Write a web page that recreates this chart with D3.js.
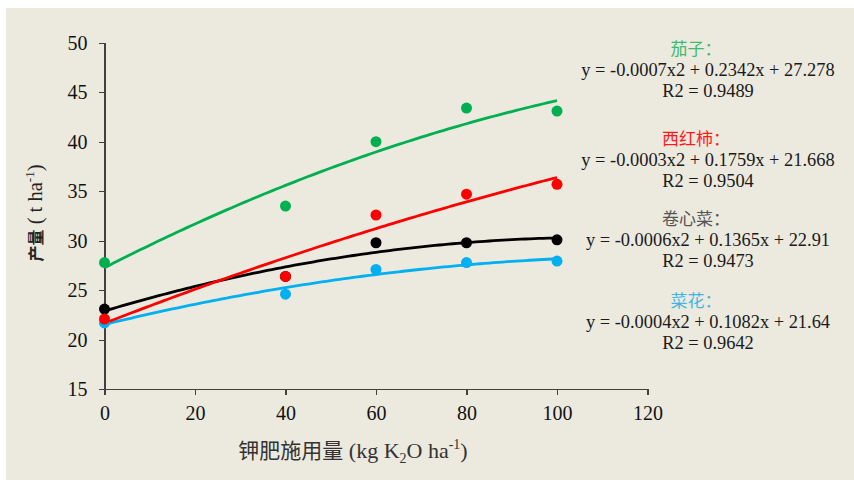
<!DOCTYPE html>
<html lang="zh">
  <head>
    <meta charset="UTF-8" />
    <style>
      body {
        margin: 0;
        background: #fff;
      }
      svg {
        display: block;
      }
      .axis path,
      .axis line {
        stroke: #404040;
        stroke-width: 1.3;
        shape-rendering: crispEdges;
      }
    </style>
    <script src="https://d3js.org/d3.v7.min.js"></script>
    <title>钾肥施用量与产量</title>
  </head>
  <body>
    <script>
      var SERIF = "Liberation Serif";
      var CJK = "Noto Sans CJK SC";

      // doses of K2O (kg/ha)
      var doses = [0, 40, 60, 80, 100];

      // yields (t/ha)
      var eggplant = [27.8, 33.5, 40.0, 43.4, 43.1];
      var tomato = [22.1, 26.4, 32.6, 34.7, 35.7];
      var cabbage = [23.1, 26.4, 29.8, 29.8, 30.1];
      var cauliflower = [21.7, 24.6, 27.1, 27.8, 27.95];

      var seriesNames = ["菜花", "卷心菜", "西红柿", "茄子"];
      var seriesColors = ["#00b0f0", "#000000", "#ff0000", "#00b050"];
      var labelColors = ["#3fb6e6", "#555555", "#ff1a1a", "#3dba6a"];
      var equations = [
        "y = -0.0004x2 + 0.1082x + 21.64",
        "y = -0.0006x2 + 0.1365x + 22.91",
        "y = -0.0003x2 + 0.1759x + 21.668",
        "y = -0.0007x2 + 0.2342x + 27.278",
      ];
      var r2Labels = ["R2 = 0.9642", "R2 = 0.9473", "R2 = 0.9504", "R2 = 0.9489"];
      var seriesValues = [cauliflower, cabbage, tomato, eggplant];

      var xTicks = [0, 20, 40, 60, 80, 100, 120];
      var yTicks = [15, 20, 25, 30, 35, 40, 45, 50];

      var W = 854,
        H = 480;

      var svg = d3
        .select("body")
        .append("svg")
        .attr("width", W)
        .attr("height", H);

      svg
        .append("rect")
        .attr("x", 6)
        .attr("y", 8)
        .attr("width", W - 6)
        .attr("height", H - 8)
        .attr("fill", "#ece9df");

      var x = d3.scaleLinear().domain([0, 120]).range([104.5, 647.5]);
      var y = d3.scaleLinear().domain([15, 50]).range([389.3, 42.7]);

      var gy = svg
        .append("g")
        .attr("class", "axis")
        .attr("transform", "translate(104.5,0)")
        .call(d3.axisLeft(y).tickValues(yTicks).tickSize(6).tickPadding(11).tickSizeOuter(0));

      var gx = svg
        .append("g")
        .attr("class", "axis")
        .attr("transform", "translate(0,389.3)")
        .call(d3.axisBottom(x).tickValues(xTicks).tickSize(6).tickPadding(11).tickSizeOuter(0));

      [gx, gy].forEach(function (g) {
        g.selectAll("text")
          .style("font-family", SERIF)
          .style("font-size", "20px")
          .attr("fill", "#111");
      });

      // quadratic least-squares fit (same as the polynomial trendline)
      function quadFit(xs, ys) {
        var n = xs.length;
        var s = [0, 0, 0, 0, 0],
          t = [0, 0, 0];
        for (var i = 0; i < n; i++) {
          for (var k = 0; k < 5; k++) s[k] += Math.pow(xs[i], k);
          for (var k = 0; k < 3; k++) t[k] += ys[i] * Math.pow(xs[i], k);
        }
        var A = [
          [s[0], s[1], s[2], t[0]],
          [s[1], s[2], s[3], t[1]],
          [s[2], s[3], s[4], t[2]],
        ];
        for (var c = 0; c < 3; c++) {
          for (var r = c + 1; r < 3; r++) {
            var f = A[r][c] / A[c][c];
            for (var j = c; j < 4; j++) A[r][j] -= f * A[c][j];
          }
        }
        var b = [0, 0, 0];
        for (var r = 2; r >= 0; r--) {
          var v = A[r][3];
          for (var j = r + 1; j < 3; j++) v -= A[r][j] * b[j];
          b[r] = v / A[r][r];
        }
        return function (xx) {
          return b[0] + b[1] * xx + b[2] * xx * xx;
        };
      }

      var line = d3
        .line()
        .x(function (d) { return x(d[0]); })
        .y(function (d) { return y(d[1]); });

      var xs = d3.range(0, 100.5, 1);

      seriesValues.forEach(function (vals, i) {
        var fit = quadFit(doses, vals);
        svg
          .append("path")
          .attr("d", line(xs.map(function (v) { return [v, fit(v)]; })))
          .attr("fill", "none")
          .attr("stroke", seriesColors[i])
          .attr("stroke-width", 2.8);
      });

      seriesValues.forEach(function (vals, i) {
        svg
          .append("g")
          .selectAll("circle")
          .data(vals)
          .enter()
          .append("circle")
          .attr("cx", function (d, j) { return x(doses[j]); })
          .attr("cy", function (d) { return y(d); })
          .attr("r", 5.5)
          .attr("fill", seriesColors[i]);
      });

      // equation labels on the right
      var labelY = [307, 225, 145, 55];
      seriesNames.forEach(function (name, i) {
        var g = svg.append("g");
        g.append("text")
          .attr("x", 696)
          .attr("y", labelY[i])
          .attr("text-anchor", "middle")
          .style("font-family", CJK)
          .style("font-size", "17px")
          .attr("fill", labelColors[i])
          .text(name + "：");
        g.append("text")
          .attr("x", 708)
          .attr("y", labelY[i] + 21)
          .attr("text-anchor", "middle")
          .style("font-family", SERIF)
          .style("font-size", "18.4px")
          .attr("fill", "#1a1a1a")
          .text(equations[i]);
        g.append("text")
          .attr("x", 708)
          .attr("y", labelY[i] + 42)
          .attr("text-anchor", "middle")
          .style("font-family", SERIF)
          .style("font-size", "18.4px")
          .attr("fill", "#1a1a1a")
          .text(r2Labels[i]);
      });

      // x axis title
      var xt = svg
        .append("text")
        .attr("x", 353)
        .attr("y", 458)
        .attr("text-anchor", "middle")
        .style("font-family", SERIF)
        .style("font-size", "22px")
        .attr("fill", "#333");
      xt.append("tspan").style("font-family", CJK).style("font-size", "21px").text("钾肥施用量");
      xt.append("tspan").text(" (kg K");
      xt.append("tspan").style("font-size", "14px").attr("dy", 5).text("2");
      xt.append("tspan").attr("dy", -5).text("O ha");
      xt.append("tspan").style("font-size", "14px").attr("dy", -9).text("-1");
      xt.append("tspan").attr("dy", 9).text(")");

      // y axis title
      var yt = svg
        .append("text")
        .attr("transform", "translate(42,213) rotate(-90)")
        .attr("text-anchor", "middle")
        .style("font-family", SERIF)
        .style("font-size", "20.5px")
        .attr("fill", "#222");
      yt.append("tspan")
        .style("font-family", CJK)
        .style("font-weight", "bold")
        .style("font-size", "16px")
        .text("产量");
      yt.append("tspan").text(" ( t ha");
      yt.append("tspan").style("font-size", "13px").attr("dy", -8).text("-1");
      yt.append("tspan").attr("dy", 8).text(")");
    </script>
  </body>
</html>
